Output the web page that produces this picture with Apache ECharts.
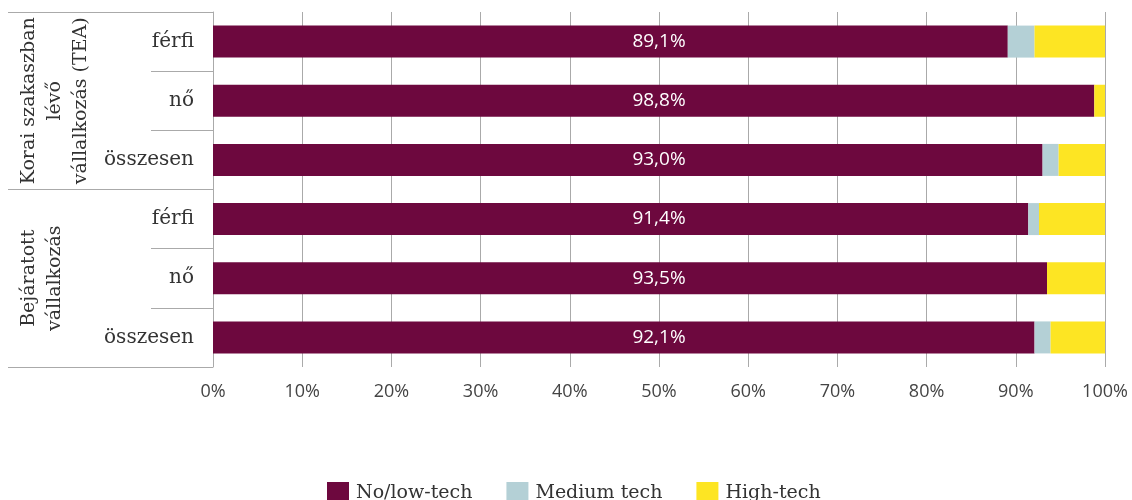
<!DOCTYPE html>
<html>
<head>
<meta charset="utf-8">
<script src="https://cdn.jsdelivr.net/npm/echarts@6/dist/echarts.min.js"></script>
<style>
  html, body { margin: 0; padding: 0; background: #fff; }
  #chart { width: 1132px; height: 500px; }
</style>
</head>
<body>
<div id="chart"></div>
<script>
// Rows: gender breakdown within each business stage
const categories = ['férfi', 'nő', 'összesen', 'férfi', 'nő', 'összesen'];
const groups = ['Korai szakaszban\nlévő\nvállalkozás (TEA)', 'Bejáratott\nvállalkozás'];

// Technology level shares (%)
const noLowTech = [89.1, 98.8, 93.0, 91.4, 93.5, 92.1];
const mediumTech = [3.0, 0, 1.8, 1.2, 0, 1.8];
const highTech = [7.9, 1.2, 5.2, 7.4, 6.5, 6.1];

const seriesNames = ['No/low-tech', 'Medium tech', 'High-tech'];
const colors = ['#6d083e', '#b4d0d6', '#fde523'];

const xTicks = { min: 0, max: 100, interval: 10 };

const GRID = { left: 213, right: 27, top: 12, bottom: 133 };
const plotWidth = 1132 - GRID.left - GRID.right;

const serif = 'DejaVu Serif';
const sans = 'Open Sans';
const lineColor = '#aaa';

const chart = echarts.init(document.getElementById('chart'), null, { renderer: 'canvas' });

function bar(name, data, color, withLabel) {
  return {
    name: name,
    type: 'bar',
    stack: 'total',
    data: data,
    barWidth: 32,
    itemStyle: { color: color },
    emphasis: { disabled: true },
    label: withLabel ? {
      show: true,
      // value printed at the middle of the 0–100% scale
      position: [plotWidth / 2, '50%'],
      align: 'center',
      verticalAlign: 'middle',
      color: '#fff',
      fontFamily: sans,
      fontSize: 19,
      formatter: p => p.value.toFixed(1).replace('.', ',') + '%'
    } : { show: false }
  };
}

chart.setOption({
  animation: false,
  backgroundColor: '#fff',
  grid: GRID,
  legend: {
    left: 322,
    top: 477,
    itemWidth: 22,
    itemHeight: 22,
    itemGap: 34,
    icon: 'rect',
    textStyle: { fontFamily: serif, fontSize: 19, color: '#333', padding: [0, 0, 0, 2] },
    data: seriesNames
  },
  xAxis: {
    type: 'value',
    min: xTicks.min,
    max: xTicks.max,
    interval: xTicks.interval,
    axisLine: { show: false },
    axisTick: { show: false },
    splitLine: { show: true, lineStyle: { color: lineColor, width: 1 } },
    axisLabel: {
      margin: 16,
      fontFamily: sans,
      fontSize: 18,
      color: '#444',
      formatter: '{value}%'
    }
  },
  yAxis: [
    {
      type: 'category',
      data: categories,
      inverse: true,
      position: 'left',
      axisLine: { show: true, lineStyle: { color: lineColor, width: 1 } },
      axisTick: { show: true, interval: 0, length: 62, lineStyle: { color: lineColor, width: 1 } },
      axisLabel: { interval: 0, margin: 19, fontFamily: serif, fontSize: 20, color: '#333' }
    },
    {
      type: 'category',
      data: groups,
      inverse: true,
      position: 'left',
      offset: 0,
      axisLine: { show: false },
      axisTick: { show: true, interval: 0, length: 205, lineStyle: { color: lineColor, width: 1 } },
      axisLabel: {
        interval: 0,
        hideOverlap: false,
        margin: 197,
        rotate: 90,
        align: 'center',
        verticalAlign: 'top',
        lineHeight: 26,
        fontFamily: serif,
        fontSize: 19,
        color: '#333'
      }
    }
  ],
  series: [
    bar(seriesNames[0], noLowTech, colors[0], true),
    bar(seriesNames[1], mediumTech, colors[1], false),
    bar(seriesNames[2], highTech, colors[2], false)
  ]
});
</script>
</body>
</html>
